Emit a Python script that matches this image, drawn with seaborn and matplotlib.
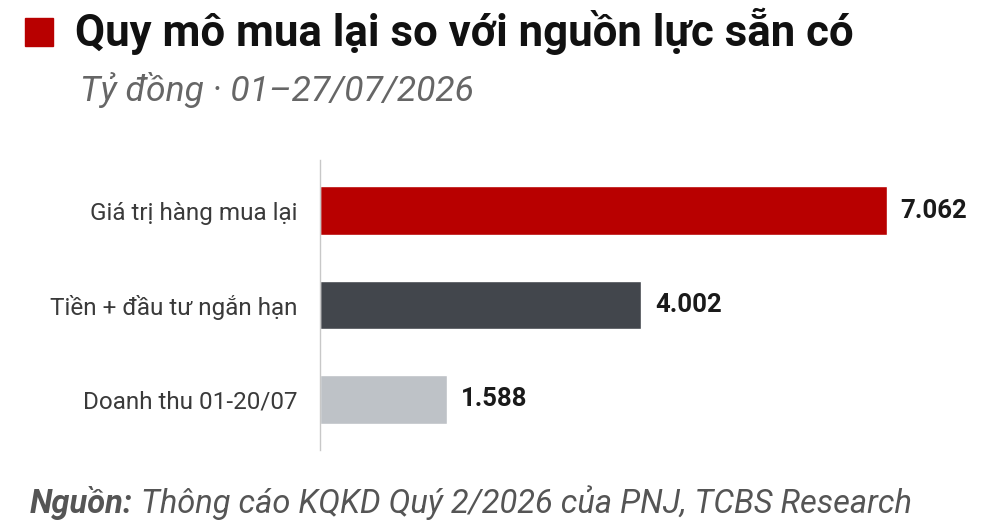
import pandas as pd
import seaborn as sns
import matplotlib.pyplot as plt
from matplotlib.patches import Rectangle

# data
categories = ['Giá trị hàng mua lại', 'Tiền + đầu tư ngắn hạn', 'Doanh thu 01-20/07']
values = [7.062, 4.002, 1.588]
value_labels = ['7.062', '4.002', '1.588']
bar_colors = ['#B80000', '#42464C', '#BEC2C7']

title = 'Quy mô mua lại so với nguồn lực sẵn có'
subtitle = 'Tỷ đồng · 01–27/07/2026'
source_bold = 'Nguồn:'
source_rest = ' Thông cáo KQKD Quý 2/2026 của PNJ, TCBS Research'

df = pd.DataFrame({'category': categories, 'value': values})

sns.set_style('white')
plt.rcParams['font.family'] = ['Roboto', 'DejaVu Sans']

fig = plt.figure(figsize=(10, 5.31), dpi=100)
# axes: x 320..1000 px, y 160..450 px (from top)
ax = fig.add_axes([0.32, 1 - 450 / 531, 0.68, 290 / 531])

sns.barplot(data=df, x='value', y='category', hue='category',
            palette=dict(zip(categories, bar_colors)), width=0.52,
            legend=False, ax=ax, saturation=1)

ax.set_xlim(0, 8.47)
ax.set_ylim(2.54, -0.54)
ax.set_xlabel('')
ax.set_ylabel('')
ax.set_xticks([])
for s in ['top', 'right', 'bottom']:
    ax.spines[s].set_visible(False)
ax.spines['left'].set_color('#C8C8C8')
ax.spines['left'].set_linewidth(1.0)
ax.tick_params(axis='y', length=0, pad=16, labelsize=17.5, labelcolor='#3A3A3A')

for i, (v, lab) in enumerate(zip(values, value_labels)):
    ax.text(v + 0.17, i, lab, va='center', ha='left', fontsize=18.5,
            fontweight='bold', color='#1A1A1A')

# title block
fig.patches.append(Rectangle((25 / 1000, 1 - 46 / 531), 28 / 1000, 28 / 531,
                             transform=fig.transFigure, color='#B80000'))
fig.text(75 / 1000, 1 - 31 / 531, title, fontsize=31.5, fontweight='bold',
         color='#111111', va='center', ha='left')
fig.text(80 / 1000, 1 - 90 / 531, subtitle, fontsize=25.5, style='italic',
         color='#666666', va='center', ha='left')

# source line
t1 = fig.text(30 / 1000, 1 - 503 / 531, source_bold, fontsize=23.5, style='italic',
              fontweight='bold', color='#555555', va='center', ha='left')
fig.canvas.draw()
bb = t1.get_window_extent()
fig.text(bb.x1 / fig.bbox.width, 1 - 503 / 531, source_rest, fontsize=23.5,
         style='italic', color='#555555', va='center', ha='left')

fig.savefig('out.png', dpi=100)
